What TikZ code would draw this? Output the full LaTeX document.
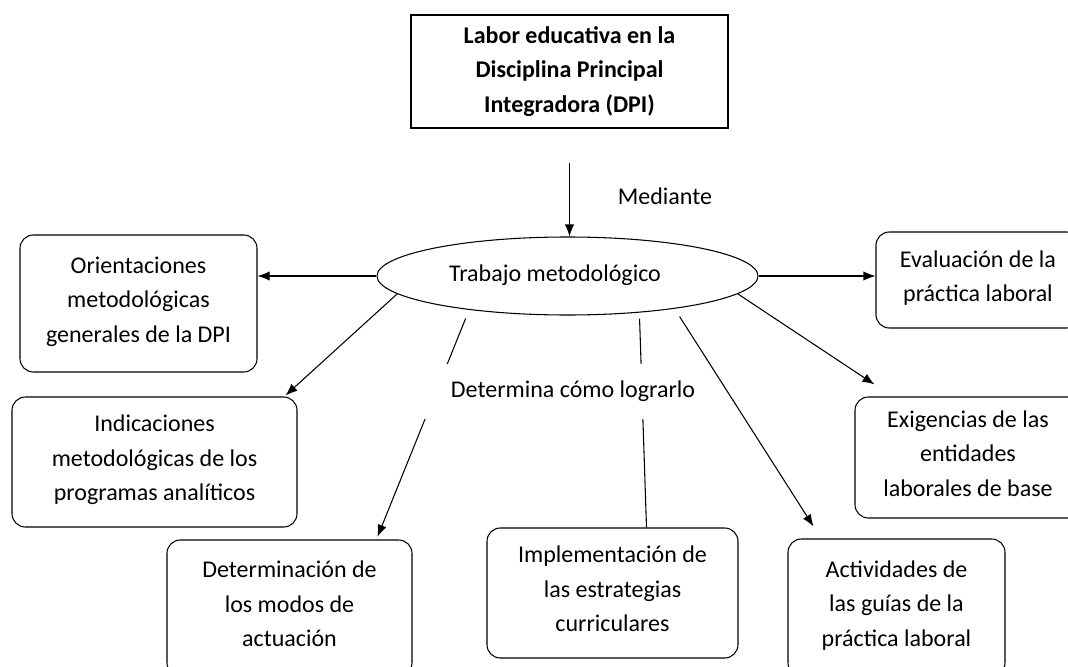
\documentclass[tikz,border=0pt]{standalone}
\usepackage{fontspec}
\setmainfont{Carlito}
\usetikzlibrary{shapes.geometric, arrows.meta}

\begin{document}
\begin{tikzpicture}[x=0.75pt, y=-0.75pt, thick, -{Latex[length=9pt, width=7pt]},
    font=\fontsize{18}{25.9}\selectfont,
    box/.style={draw, rounded corners=10pt, align=center, inner sep=0pt, text depth=6pt}]
        \path[use as bounding box, clip] (0,0) rectangle (1068,667);

        \node[draw, line width=1.2pt, minimum width=237.75pt, minimum height=84.75pt, align=center, font=\fontsize{18}{25.9}\selectfont\bfseries] (labor) at (569.5,71.5) {Labor educativa en la\\Disciplina Principal\\Integradora (DPI)};
        \node[ellipse, draw, minimum width=285.75pt, minimum height=58.5pt, text depth=4pt] (trabajo) at (567.5,276) {Trabajo metodológico\kern18.75pt};
        \node (mediante) at (665,196) {Mediante};

        \node[box, minimum width=177.75pt, minimum height=102.75pt] (orient) at (138.5,303.5) {Orientaciones\\metodológicas\\generales de la DPI};
        \node[box, minimum width=213.75pt, minimum height=97.5pt] (indic) at (154.5,462) {Indicaciones\\metodológicas de los\\programas analíticos};
        \node[box, minimum width=183.75pt, minimum height=102pt] (determ) at (289.5,608) {Determinación de\\los modos de\\actuación};
        \node[box, minimum width=188.25pt, minimum height=97.5pt] (implem) at (612.5,593) {Implementación de\\las estrategias\\curriculares};
        \node[box, minimum width=162.75pt, minimum height=102.75pt] (activ) at (896.5,607.5) {Actividades de\\las guías de la\\práctica laboral};
        \node[box, minimum width=153pt, minimum height=72pt] (evalua) at (978,280) {Evaluación de la\\práctica laboral};
        \node[box, minimum width=169.5pt, minimum height=90.75pt] (exig) at (968,457.5) {Exigencias de las\\entidades\\laborales de base};

        % the two lines broken by the label
        \draw[-, shorten <=4.5pt] (trabajo.-27) -- ([xshift=25.5pt]implem.north);
        \draw[shorten <=7pt] (trabajo.199) -- ([xshift=66pt, yshift=2pt]determ.north);
        \node[fill=white, minimum width=232.5pt, minimum height=41.25pt] (determina) at (573,391) {Determina cómo lograrlo};

        \draw[shorten <=25.5pt] (labor.south) -- (labor.south |- trabajo.north);
        \draw (trabajo.west) -- (trabajo.west -| orient.east);
        \draw (trabajo.east) -- (trabajo.east -| evalua.west);
        \draw (trabajo.186) -- ([xshift=-9pt, yshift=0.75pt]indic.north east);
        \draw (trabajo.-6) -- ([xshift=15pt, yshift=9pt]exig.north west);
        \draw[shorten <=7pt] (trabajo.-17) -- ([xshift=19.5pt, yshift=9pt]activ.north west);
    \end{tikzpicture}
\end{document}
